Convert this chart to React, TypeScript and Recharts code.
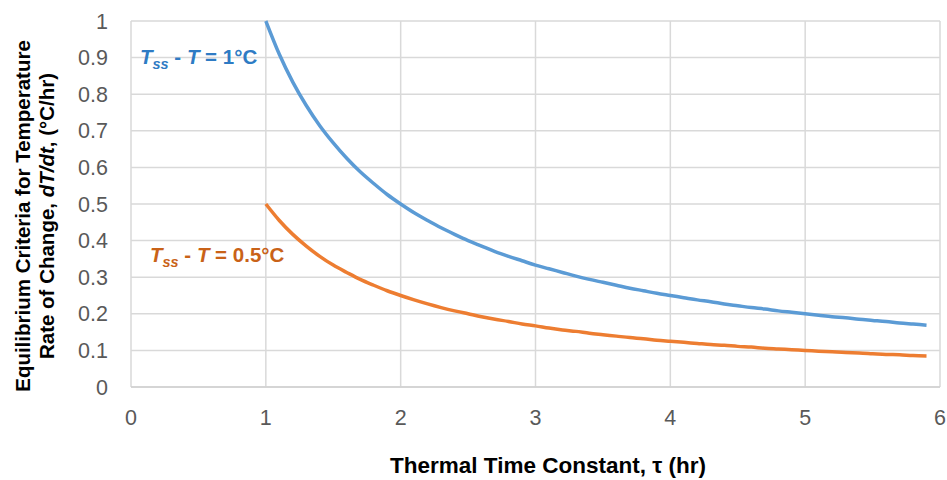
import { CartesianGrid, Line, LineChart, XAxis, YAxis } from "recharts";

// thermal time constant τ (hr)
const tau = [
  1.0, 1.1, 1.2, 1.3, 1.4, 1.5, 1.6, 1.7, 1.8, 1.9,
  2.0, 2.1, 2.2, 2.3, 2.4, 2.5, 2.6, 2.7, 2.8, 2.9,
  3.0, 3.1, 3.2, 3.3, 3.4, 3.5, 3.6, 3.7, 3.8, 3.9,
  4.0, 4.1, 4.2, 4.3, 4.4, 4.5, 4.6, 4.7, 4.8, 4.9,
  5.0, 5.1, 5.2, 5.3, 5.4, 5.5, 5.6, 5.7, 5.8, 5.9,
];

// Tss - T = 1°C
const rate1 = [
  1.0, 0.909, 0.833, 0.769, 0.714, 0.667, 0.625, 0.588, 0.556, 0.526,
  0.5, 0.476, 0.455, 0.435, 0.417, 0.4, 0.385, 0.37, 0.357, 0.345,
  0.333, 0.323, 0.313, 0.303, 0.294, 0.286, 0.278, 0.27, 0.263, 0.256,
  0.25, 0.244, 0.238, 0.233, 0.227, 0.222, 0.217, 0.213, 0.208, 0.204,
  0.2, 0.196, 0.192, 0.189, 0.185, 0.182, 0.179, 0.175, 0.172, 0.169,
];

// Tss - T = 0.5°C
const rateHalf = [
  0.5, 0.455, 0.417, 0.385, 0.357, 0.333, 0.313, 0.294, 0.278, 0.263,
  0.25, 0.238, 0.227, 0.217, 0.208, 0.2, 0.192, 0.185, 0.179, 0.172,
  0.167, 0.161, 0.156, 0.152, 0.147, 0.143, 0.139, 0.135, 0.132, 0.128,
  0.125, 0.122, 0.119, 0.116, 0.114, 0.111, 0.109, 0.106, 0.104, 0.102,
  0.1, 0.098, 0.096, 0.094, 0.093, 0.091, 0.089, 0.088, 0.086, 0.085,
];

const xTicks = [0, 1, 2, 3, 4, 5, 6];
const yTicks = [0, 0.1, 0.2, 0.3, 0.4, 0.5, 0.6, 0.7, 0.8, 0.9, 1];

const data = tau.map((t, i) => ({ tau: t, one: rate1[i], half: rateHalf[i] }));

const font = "'Liberation Sans', Arial, sans-serif";
const tickSize = 21.5;

function XTick({ x, y, payload }: any) {
  return (
    <text x={x} y={y} dy="0.71em" textAnchor="middle" fill="#595959" style={{ fontSize: tickSize, fontFamily: font }}>
      {payload.value}
    </text>
  );
}

function YTick({ x, y, payload }: any) {
  return (
    <text x={x} y={y} dy="0.355em" textAnchor="end" fill="#595959" style={{ fontSize: tickSize, fontFamily: font }}>
      {payload.value}
    </text>
  );
}

export default function App() {
  return (
    <div style={{ position: "absolute", left: 0, top: 0, width: 947, height: 480, background: "#fff" }}>
      <LineChart
        width={947}
        height={480}
        data={data}
        margin={{ top: 21, right: 7, bottom: 0, left: 0 }}
      >
        <CartesianGrid stroke="#d9d9d9" strokeWidth={1.5} />
        <XAxis
          dataKey="tau"
          type="number"
          domain={[0, 6]}
          ticks={xTicks}
          height={93}
          tickLine={false}
          axisLine={{ stroke: "#d0d0d0", strokeWidth: 1.5 }}
          tickMargin={17}
          tick={<XTick />}
        />
        <YAxis
          type="number"
          domain={[0, 1]}
          ticks={yTicks}
          width={131}
          tickLine={false}
          axisLine={false}
          tickMargin={17}
          tick={<YTick />}
        />
        <Line
          type="monotone"
          dataKey="one"
          stroke="#5B9BD5"
          strokeWidth={3.5}
          dot={false}
          isAnimationActive={false}
        />
        <Line
          type="monotone"
          dataKey="half"
          stroke="#ED7D31"
          strokeWidth={3.5}
          dot={false}
          isAnimationActive={false}
        />
      </LineChart>

      {/* axis titles and curve labels */}
      <svg
        width={947}
        height={480}
        style={{ position: "absolute", left: 0, top: 0, pointerEvents: "none" }}
      >
        <g fontFamily={font} fontWeight="bold" fontSize={20.5} fill="#000">
          <text transform="translate(30,216) rotate(-90)" textAnchor="middle">
            Equilibrium Criteria for Temperature
          </text>
          <text transform="translate(54,216) rotate(-90)" textAnchor="middle">
            Rate of Change, <tspan fontStyle="italic">dT/dt</tspan>, (°C/hr)
          </text>
          <text x={548} y={473} textAnchor="middle" fontSize={22.5}>
            Thermal Time Constant, τ (hr)
          </text>
        </g>
        <g fontFamily={font} fontWeight="bold" fontSize={20.5}>
          <text x={140} y={64} fill="#2E7BC4">
            <tspan fontStyle="italic">T</tspan>
            <tspan fontStyle="italic" fontSize={14.5} dy={5}>ss</tspan>
            <tspan dy={-5}> - </tspan>
            <tspan fontStyle="italic">T</tspan>
            <tspan> = 1°C</tspan>
          </text>
          <text x={150} y={262} fill="#C96218">
            <tspan fontStyle="italic">T</tspan>
            <tspan fontStyle="italic" fontSize={14.5} dy={5}>ss</tspan>
            <tspan dy={-5}> - </tspan>
            <tspan fontStyle="italic">T</tspan>
            <tspan> = 0.5°C</tspan>
          </text>
        </g>
      </svg>
    </div>
  );
}
